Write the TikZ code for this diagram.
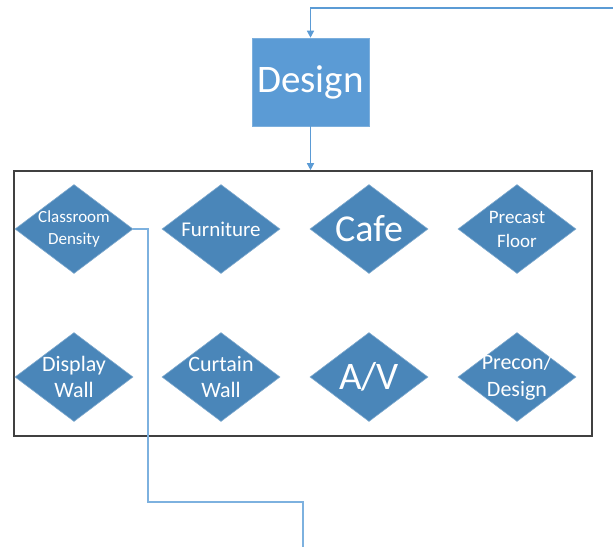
\documentclass[tikz,border=0pt]{standalone}
\usepackage{fontspec}
\setmainfont{Carlito}
\usetikzlibrary{shapes.geometric,arrows.meta}
\definecolor{boxblue}{HTML}{5B9BD5}
\definecolor{diablue}{HTML}{4A86B9}
\definecolor{linkblue}{HTML}{7DB1DF}
\definecolor{frame}{HTML}{404040}
\tikzset{
  flow/.style={draw=boxblue, line width=1.4pt, -{Triangle[width=7pt,length=7pt]}},
  link/.style={draw=linkblue, line width=1.6pt},
  mainbox/.style={rectangle, fill=boxblue, draw=boxblue!80!white, line width=0.6pt,
    minimum width=117pt, minimum height=88pt, inner sep=0pt, text=white,
    font=\fontsize{39}{42}\selectfont},
  dia/.style={diamond, fill=diablue, draw=diablue!70!white, line width=0.6pt,
    minimum width=118pt, minimum height=89pt, inner sep=0pt},
  dtext/.style={text=white, align=center, inner sep=0pt},
  group/.style={draw=frame, line width=1.6pt}
}
\begin{document}
\begin{tikzpicture}[x=1pt, y=-1pt]
  \useasboundingbox (0,0) rectangle (613,547);

  % top-level step
  \node[mainbox] (design) at (310.5,82) {Design};

  % grouping frame
  \node[group, rectangle, minimum width=578pt, minimum height=265pt, inner sep=0pt]
    (frame) at (303,303.5) {};

  % first row of decisions
  \node[dia] (d1) at (74,229) {};
  \node[dtext, font=\fontsize{17}{22}\selectfont] (t1) at (d1) {Classroom\\Density};
  \node[dia] (d2) at (221,229) {};
  \node[dtext, font=\fontsize{21}{22}\selectfont] (t2) at (d2) {Furniture};
  \node[dia] (d3) at (369,229) {};
  \node[dtext, font=\fontsize{38}{40}\selectfont] (t3) at (d3) {Cafe};
  \node[dia] (d4) at (517,229) {};
  \node[dtext, font=\fontsize{19}{24}\selectfont] (t4) at (d4) {Precast\\Floor};

  % second row of decisions
  \node[dia] (d5) at (74,377) {};
  \node[dtext, font=\fontsize{22}{26}\selectfont] (t5) at (d5) {Display\\Wall};
  \node[dia] (d6) at (221,377) {};
  \node[dtext, font=\fontsize{22}{26}\selectfont] (t6) at (d6) {Curtain\\Wall};
  \node[dia] (d7) at (369,377) {};
  \node[dtext, font=\fontsize{39}{40}\selectfont] (t7) at (d7) {A/V};
  \node[dia] (d8) at (517,377) {};
  \node[dtext, font=\fontsize{22}{27}\selectfont] (t8) at (d8) {Precon/\\Design};

  % connectors
  \coordinate (src) at (613,8);
  \draw[flow] (src) -| (design.north);
  \draw[flow] (design.south) -- (frame.north -| design.south);

  \coordinate (bend) at (148,502);
  \coordinate (out) at (303,547);
  \draw[link] (d1.east) -| (bend) -| (out);
\end{tikzpicture}
\end{document}
